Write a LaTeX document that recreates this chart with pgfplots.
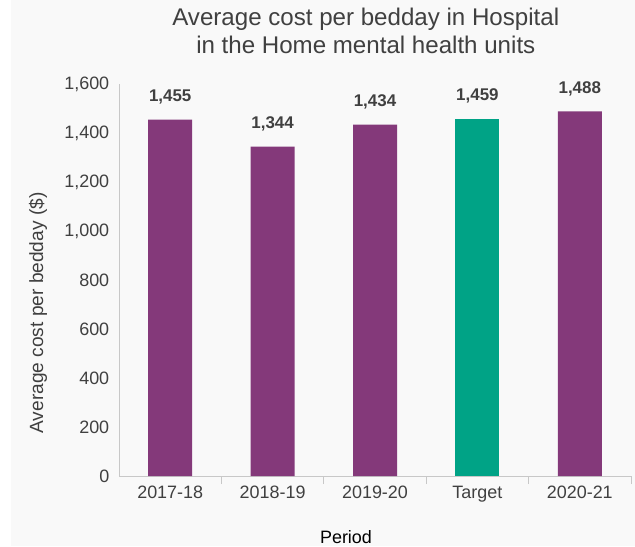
\documentclass[border=0pt]{standalone}
\usepackage{pgfplots}
\pgfplotsset{compat=1.18}
\usepackage{fontspec}
\setmainfont{Liberation Sans}
\definecolor{bgpanel}{HTML}{F9F9F9}
\definecolor{barpurple}{HTML}{84397A}
\definecolor{barteal}{HTML}{00A386}
\definecolor{txt}{HTML}{404040}
\definecolor{axgray}{HTML}{C8C8C8}
\begin{document}
\begin{tikzpicture}[x=1bp,y=1bp]
\fill[white] (0,0) rectangle (635,546);
\fill[bgpanel] (11,0) rectangle (635,546);
\begin{axis}[
  at={(119bp,70bp)}, anchor=south west,
  scale only axis, width=512bp, height=392bp,
  xmin=-0.5, xmax=4.5, ymin=0, ymax=1600,
  axis lines*=left,
  axis line style={axgray, line width=0.8pt},
  separate axis lines,
  x axis line style={-}, y axis line style={-},
  xtick={0,1,2,3,4},
  xticklabels={2017-18,2018-19,2019-20,Target,2020-21},
  major x tick style={draw=none},
  minor xtick={0.5,1.5,2.5,3.5,4.5},
  minor x tick style={axgray, line width=0.8pt},
  minor tick length=8bp,
  tick align=outside,
  ytick={0,200,...,1600},
  major y tick style={draw=none},
  /pgf/number format/assume math mode=true,
  /pgf/number format/fixed,
  /pgf/number format/1000 sep={,},
  ticklabel style={font=\fontsize{18}{20}\selectfont, text=txt},
  xticklabel style={yshift=-2bp},
  yticklabel style={xshift=-2bp},
  ylabel={Average cost per bedday (\$)},
  ylabel style={at={(axis description cs:0,0.5)}, anchor=center, yshift=81bp, xshift=-33bp, font=\fontsize{19.2}{22}\selectfont, text=txt},
  xlabel={Period},
  xlabel style={at={(axis description cs:0.5,0)}, anchor=center, xshift=-29bp, yshift=-61bp, font=\fontsize{18}{20}\selectfont, text=black},
  title={Average cost per bedday in Hospital\\in the Home mental health units},
  title style={at={(axis description cs:0.482,1)}, anchor=center, yshift=47bp, align=center, font=\fontsize{24.2}{28}\selectfont, text=txt},
  ybar, bar width=44bp, bar shift=0pt,
  nodes near coords,
  nodes near coords style={font=\bfseries\fontsize{17}{20}\selectfont, text=txt, yshift=12bp},
  clip=false,
]
\addplot[fill=barpurple, draw=none] coordinates {(0,1455) (1,1344) (2,1434) (4,1488)};
\addplot[fill=barteal, draw=none] coordinates {(3,1459)};
\end{axis}
\end{tikzpicture}
\end{document}
